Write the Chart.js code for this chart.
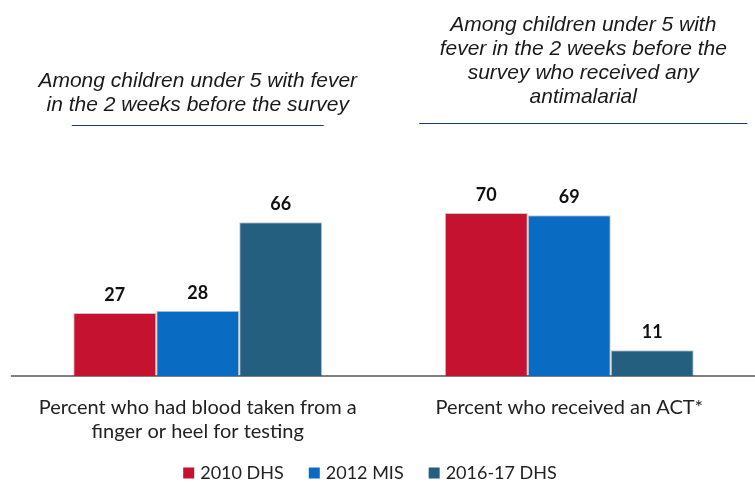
<!DOCTYPE html>
<html>
<head>
<meta charset="utf-8">
<script src="https://cdn.jsdelivr.net/npm/chart.js@4"></script>
<style>
  html, body { margin:0; padding:0; background:#fff; }
  #wrap { width:755px; height:483px; position:relative; }
</style>
</head>
<body>
<div id="wrap"><canvas id="chart" width="755" height="483"></canvas></div>
<script>
const categories = [
  ['Percent who had blood taken from a', 'finger or heel for testing'],
  ['Percent who received an ACT*']
];
const groupTitles = [
  ['Among children under 5 with fever', 'in the 2 weeks before the survey'],
  ['Among children under 5 with', 'fever in the 2 weeks before the', 'survey who received any', 'antimalarial']
];
const seriesNames = ['2010 DHS', '2012 MIS', '2016-17 DHS'];
const dhs2010 = [27, 70];
const mis2012 = [28, 69];
const dhs2016 = [66, 11];
const seriesColors = ['#C41230', '#0A6BC2', '#245F80'];

// value labels above each bar
const valueLabels = {
  id: 'valueLabels',
  afterDatasetsDraw(chart){
    const ctx = chart.ctx;
    ctx.save();
    ctx.font = 'bold 18px Lato, sans-serif';
    ctx.fillStyle = '#111';
    ctx.textAlign = 'center';
    ctx.textBaseline = 'middle';
    chart.data.datasets.forEach((ds, i) => {
      chart.getDatasetMeta(i).data.forEach((bar, j) => {
        ctx.fillText(ds.data[j], bar.x, bar.y - 18);
      });
    });
    ctx.restore();
  }
};

// italic group headers with a rule under each
const groupHeaders = {
  id: 'groupHeaders',
  afterDraw(chart){
    const ctx = chart.ctx;
    const x = chart.scales.x;
    const shift = [0, 14];
    const firstLine = [81, 25];
    const ruleY = [125, 123];
    const ruleHalf = [126, 164];
    ctx.save();
    ctx.font = 'italic 21px "Liberation Sans", Arial, sans-serif';
    ctx.fillStyle = '#1a1a1a';
    ctx.textAlign = 'center';
    ctx.textBaseline = 'middle';
    groupTitles.forEach((lines, i) => {
      const cx = x.getPixelForValue(i) + shift[i];
      lines.forEach((t, k) => ctx.fillText(t, cx, firstLine[i] + k * 24));
      ctx.strokeStyle = '#1F3A6E';
      ctx.lineWidth = 1;
      ctx.beginPath();
      ctx.moveTo(cx - ruleHalf[i], ruleY[i] + 0.5);
      ctx.lineTo(cx + ruleHalf[i], ruleY[i] + 0.5);
      ctx.stroke();
    });
    ctx.restore();
  }
};

// bottom legend, a bit left of centre like the original
const bottomLegend = {
  id: 'bottomLegend',
  afterDraw(chart){
    const ctx = chart.ctx;
    const box = 11, gap = 6, spacing = 25;
    const y = 473;
    ctx.save();
    ctx.font = '18px Lato, sans-serif';
    ctx.textBaseline = 'middle';
    const items = chart.data.datasets.map(d => ({ text: d.label, color: d.backgroundColor, w: ctx.measureText(d.label).width }));
    const total = items.reduce((s, it) => s + box + gap + it.w, 0) + spacing * (items.length - 1);
    let x = 370 - total / 2;
    items.forEach(it => {
      ctx.fillStyle = it.color;
      ctx.fillRect(x, y - box / 2, box, box);
      ctx.fillStyle = '#222';
      ctx.fillText(it.text, x + box + gap, y);
      x += box + gap + it.w + spacing;
    });
    ctx.restore();
  }
};

function ds(label, data, color){
  return {
    label, data,
    backgroundColor: color,
    borderColor: 'rgba(0,0,0,0.22)',
    borderWidth: 1,
    categoryPercentage: 0.67,
    barPercentage: 1
  };
}

new Chart(document.getElementById('chart'), {
  type: 'bar',
  data: {
    labels: categories,
    datasets: [
      ds(seriesNames[0], dhs2010, seriesColors[0]),
      ds(seriesNames[1], mis2012, seriesColors[1]),
      ds(seriesNames[2], dhs2016, seriesColors[2])
    ]
  },
  options: {
    responsive: false,
    animation: false,
    layout: { padding: { top: 143, left: 12, right: 0, bottom: 27 } },
    plugins: {
      legend: { display: false },
      tooltip: { enabled: false }
    },
    scales: {
      x: {
        grid: { display: false },
        border: { color: '#7f7f7f', width: 2 },
        ticks: { color: '#222', padding: 12, font: { family: 'Lato, sans-serif', size: 20 } }
      },
      y: { display: false, min: 0, max: 100 }
    }
  },
  plugins: [valueLabels, groupHeaders, bottomLegend]
});
</script>
</body>
</html>
